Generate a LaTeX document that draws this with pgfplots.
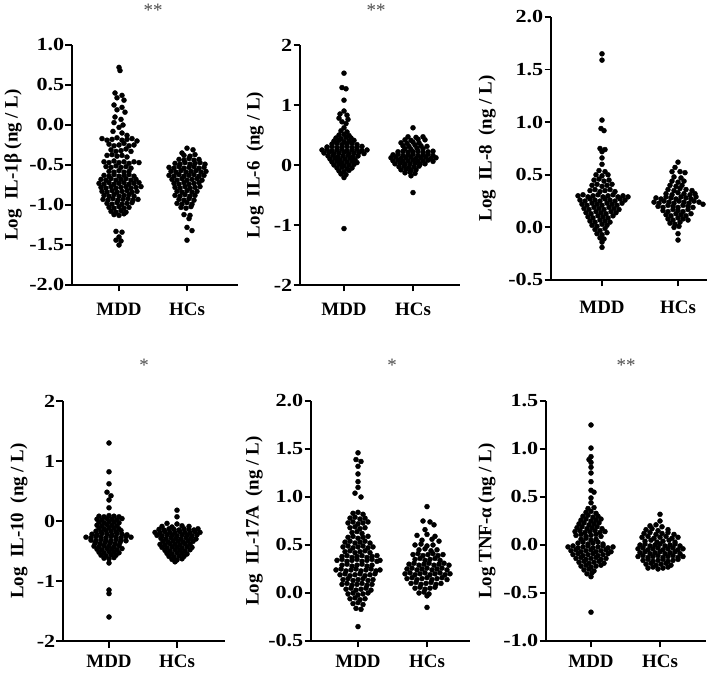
\documentclass[border=0pt]{standalone}
\usepackage{pgfplots}
\pgfplotsset{compat=1.18}
\usepackage{fontspec}
\setmainfont{Liberation Serif}
\newfontfamily\widefont{Liberation Serif}[FakeStretch=1.2]
\newcommand{\bigbf}{\bfseries\fontsize{19}{19}\selectfont}
\newcommand{\numbf}{\widefont\bfseries\fontsize{18.5}{18.5}\selectfont}
\pgfplotsset{
  swarm/.style={
    scale only axis, anchor=south west,
    axis x line=bottom, axis y line=left,
    axis line style={-, line width=1.8bp, black},
    every tick/.style={black, line width=1.8bp},
    major tick length=6.5bp, tick align=outside,
    xticklabel style={font=\bigbf, black},
    yticklabel style={font=\numbf, black, inner xsep=1bp},
    xticklabels={MDD,HCs},
    ylabel style={font=\bigbf, anchor=center},
    clip=false,
  },
  dots/.style={only marks, mark=*, mark size=2.5bp, black, mark options={draw=black, fill=black}},
}
\begin{document}
\begin{tikzpicture}
\path[use as bounding box] (0bp,0bp) rectangle (708bp,674bp);

% ---------- Panel 1: IL-1beta ----------
\begin{axis}[swarm, at={(72bp,389bp)}, width=166bp, height=240bp,
  xmin=-47, xmax=119, xtick={0,68}, xticklabel style={yshift=-8bp},
  ymin=-2, ymax=1, ytick={-2,-1.5,-1,-0.5,0,0.5,1},
  yticklabels={-2.0,-1.5,-1.0,-0.5,0.0,0.5,1.0},
  ylabel={Log\ \ IL-1β (ng / L)}, ylabel style={at={(axis description cs:-0.355,0.5)}}]
\addplot[dots] table[row sep=\\] {dx y\\
0 0.72\\ 1 0.68\\ -4 0.40\\ 3 0.37\\ -2 0.34\\ 5 0.31\\ -5 0.25\\ 3 0.22\\ -2 0.19\\ 6 0.16\\
-4 0.10\\ 2 0.07\\ -5 0.03\\ 4 0.00\\ 0 -0.03\\ -6 -0.08\\ 3 -0.10\\ 8 -0.13\\
-17 -0.17\\ -12 -0.19\\ -7 -0.18\\ -2 -0.16\\ 3 -0.19\\ 8 -0.18\\ 13 -0.17\\ 18 -0.20\\
-10 -0.24\\ -5 -0.26\\ 0 -0.25\\ 5 -0.23\\ 10 -0.26\\ 15 -0.25\\
-8 -0.31\\ -3 -0.33\\ 2 -0.32\\ 7 -0.30\\ 12 -0.33\\
-12 -0.38\\ -7 -0.37\\ -2 -0.39\\ 3 -0.38\\ 8 -0.40\\
-15 -0.46\\ -10 -0.47\\ -5 -0.45\\ 0 -0.47\\ 5 -0.46\\ 10 -0.48\\ 15 -0.46\\ 20 -0.47\\
-13 -0.52\\ -8 -0.53\\ -3 -0.51\\ 2 -0.53\\ 7 -0.52\\ 12 -0.54\\
-10 -0.58\\ -5 -0.59\\ 0 -0.57\\ 5 -0.59\\ 10 -0.58\\
-15 -0.63\\ -10 -0.64\\ -5 -0.62\\ 0 -0.64\\ 5 -0.63\\ 10 -0.62\\ 15 -0.64\\
-18 -0.68\\ -13 -0.69\\ -8 -0.67\\ -3 -0.69\\ 2 -0.68\\ 7 -0.67\\ 12 -0.69\\ 17 -0.68\\
-20 -0.73\\ -15 -0.74\\ -10 -0.72\\ -5 -0.74\\ 0 -0.73\\ 5 -0.72\\ 10 -0.74\\ 15 -0.73\\ 20 -0.72\\
-18 -0.78\\ -13 -0.79\\ -8 -0.77\\ -3 -0.79\\ 2 -0.78\\ 7 -0.77\\ 12 -0.79\\ 17 -0.78\\ 22 -0.77\\
-17 -0.83\\ -12 -0.84\\ -7 -0.82\\ -2 -0.84\\ 3 -0.83\\ 8 -0.82\\ 13 -0.84\\ 18 -0.83\\
-15 -0.88\\ -10 -0.89\\ -5 -0.87\\ 0 -0.89\\ 5 -0.88\\ 10 -0.87\\ 15 -0.89\\
-16 -0.93\\ -11 -0.94\\ -6 -0.92\\ -1 -0.94\\ 4 -0.93\\ 9 -0.92\\ 14 -0.94\\ 19 -0.93\\
-12 -0.98\\ -7 -0.99\\ -2 -0.97\\ 3 -0.99\\ 8 -0.98\\ 13 -0.97\\
-10 -1.03\\ -5 -1.04\\ 0 -1.02\\ 5 -1.04\\ 10 -1.03\\
-8 -1.08\\ -3 -1.09\\ 2 -1.07\\ 7 -1.09\\ -5 -1.12\\ 0 -1.13\\ 5 -1.11\\
-3 -1.33\\ 3 -1.34\\ 0 -1.40\\ -3 -1.44\\ 2 -1.45\\ 0 -1.50\\
};
\addplot[dots] table[row sep=\\, x expr=\thisrow{dx}+68] {dx y\\
0 -0.29\\ 6 -0.31\\ -5 -0.35\\ -3 -0.38\\ 3 -0.39\\ 8 -0.37\\
-8 -0.43\\ -3 -0.44\\ 2 -0.42\\ 7 -0.44\\ 12 -0.43\\
-12 -0.48\\ -7 -0.49\\ -2 -0.47\\ 3 -0.49\\ 8 -0.48\\ 13 -0.47\\ 18 -0.49\\
-18 -0.53\\ -13 -0.54\\ -8 -0.52\\ -3 -0.54\\ 2 -0.53\\ 7 -0.52\\ 12 -0.54\\ 17 -0.53\\
-16 -0.58\\ -11 -0.59\\ -6 -0.57\\ -1 -0.59\\ 4 -0.58\\ 9 -0.57\\ 14 -0.59\\ 19 -0.58\\
-18 -0.63\\ -13 -0.64\\ -8 -0.62\\ -3 -0.64\\ 2 -0.63\\ 7 -0.62\\ 12 -0.64\\ 17 -0.63\\
-15 -0.68\\ -10 -0.69\\ -5 -0.67\\ 0 -0.69\\ 5 -0.68\\ 10 -0.67\\ 15 -0.69\\
-13 -0.73\\ -8 -0.74\\ -3 -0.72\\ 2 -0.74\\ 7 -0.73\\ 12 -0.72\\
-12 -0.78\\ -7 -0.79\\ -2 -0.77\\ 3 -0.79\\ 8 -0.78\\ 13 -0.77\\
-10 -0.83\\ -5 -0.84\\ 0 -0.82\\ 5 -0.84\\ 10 -0.83\\
-12 -0.88\\ -7 -0.89\\ -2 -0.87\\ 3 -0.89\\ 8 -0.88\\
-8 -0.93\\ -3 -0.94\\ 2 -0.92\\ 7 -0.94\\ -10 -0.98\\ -5 -0.99\\ 0 -0.97\\ 5 -0.99\\
-6 -1.03\\ -1 -1.04\\ 4 -1.02\\ -3 -1.12\\ 3 -1.13\\ 2 -1.17\\ 0 -1.28\\ 5 -1.32\\ 0 -1.44\\
};
\end{axis}

% ---------- Panel 2: IL-6 ----------
\begin{axis}[swarm, at={(300bp,389bp)}, width=160bp, height=240bp,
  xmin=-44, xmax=116, xtick={0,69}, xticklabel style={yshift=-8bp},
  ymin=-2, ymax=2, ytick={-2,-1,0,1,2}, yticklabels={-2,-1,0,1,2},
  ylabel={Log\ \ IL-6\ \ (ng / L)}, ylabel style={at={(axis description cs:-0.281,0.5)}}]
\addplot[dots] table[row sep=\\] {dx y\\
0 1.53\\ -2 1.29\\ 2 1.27\\ 0 1.08\\ 0 0.90\\ -4 0.85\\ 3 0.83\\ -5 0.78\\ 4 0.76\\ -2 0.72\\ 2 0.69\\
0 0.62\\ -3 0.57\\ 3 0.55\\ -5 0.50\\ 0 0.51\\ 5 0.49\\
-8 0.45\\ -3 0.44\\ 2 0.46\\ 7 0.45\\ -10 0.40\\ -5 0.41\\ 0 0.39\\ 5 0.40\\ 10 0.41\\
-12 0.35\\ -7 0.36\\ -2 0.34\\ 3 0.35\\ 8 0.36\\ 13 0.34\\
-17 0.30\\ -12 0.31\\ -7 0.29\\ -2 0.30\\ 3 0.31\\ 8 0.29\\ 13 0.30\\ 18 0.31\\
-22 0.25\\ -17 0.26\\ -12 0.24\\ -7 0.25\\ -2 0.26\\ 3 0.24\\ 8 0.25\\ 13 0.26\\ 18 0.24\\ 23 0.25\\
-20 0.20\\ -15 0.21\\ -10 0.19\\ -5 0.20\\ 0 0.21\\ 5 0.19\\ 10 0.20\\ 15 0.21\\ 20 0.19\\
-16 0.15\\ -11 0.16\\ -6 0.14\\ -1 0.15\\ 4 0.16\\ 9 0.14\\ 14 0.15\\
-14 0.10\\ -9 0.11\\ -4 0.09\\ 1 0.10\\ 6 0.11\\ 11 0.09\\
-12 0.05\\ -7 0.06\\ -2 0.04\\ 3 0.05\\ 8 0.06\\ 13 0.04\\
-10 0.00\\ -5 0.01\\ 0 -0.01\\ 5 0.00\\ 10 0.01\\
-7 -0.05\\ -2 -0.04\\ 3 -0.06\\ 8 -0.05\\ -5 -0.10\\ 0 -0.11\\ 5 -0.09\\
-3 -0.15\\ 2 -0.16\\ 0 -0.21\\ 0 -1.06\\
};
\addplot[dots] table[row sep=\\, x expr=\thisrow{dx}+69] {dx y\\
0 0.62\\ -5 0.47\\ 3 0.46\\ 10 0.47\\ -8 0.42\\ -2 0.41\\ 5 0.43\\ 12 0.42\\
-12 0.37\\ -6 0.36\\ 0 0.38\\ 6 0.37\\ -10 0.32\\ -4 0.31\\ 2 0.33\\ 8 0.32\\ 14 0.31\\
-8 0.27\\ -2 0.26\\ 4 0.28\\ 10 0.27\\
-15 0.22\\ -10 0.23\\ -5 0.21\\ 0 0.22\\ 5 0.23\\ 10 0.21\\ 15 0.22\\ 20 0.23\\
-20 0.17\\ -15 0.18\\ -10 0.16\\ -5 0.17\\ 0 0.18\\ 5 0.16\\ 10 0.17\\ 15 0.18\\ 20 0.16\\
-22 0.12\\ -17 0.13\\ -12 0.11\\ -7 0.12\\ -2 0.13\\ 3 0.11\\ 8 0.12\\ 13 0.13\\ 18 0.11\\ 23 0.12\\
-20 0.07\\ -15 0.08\\ -10 0.06\\ -5 0.07\\ 0 0.08\\ 5 0.06\\ 10 0.07\\ 15 0.08\\ 20 0.06\\
-18 0.02\\ -13 0.03\\ -8 0.01\\ -3 0.02\\ 2 0.03\\ 7 0.01\\ 12 0.02\\
-14 -0.03\\ -9 -0.02\\ -4 -0.04\\ 1 -0.03\\ 6 -0.02\\
-12 -0.08\\ -7 -0.07\\ -2 -0.09\\ 3 -0.08\\ -8 -0.13\\ -3 -0.12\\ 2 -0.14\\ -2 -0.18\\ 0 -0.46\\
};
\end{axis}

% ---------- Panel 3: IL-8 ----------
\begin{axis}[swarm, at={(551bp,394bp)}, width=156bp, height=263bp,
  xmin=-51, xmax=105, xtick={0,76}, xticklabel style={yshift=-11bp},
  ymin=-0.5, ymax=2, ytick={-0.5,0,0.5,1,1.5,2}, yticklabels={-0.5,0.0,0.5,1.0,1.5,2.0},
  ylabel={Log\ \ IL-8\ \ (ng / L)}, ylabel style={at={(axis description cs:-0.41,0.5)}}]
\addplot[dots] table[row sep=\\] {dx y\\
0 1.65\\ 0 1.59\\ 0 1.02\\ -1 0.94\\ 2 0.92\\ -2 0.75\\ 3 0.74\\ 0 0.72\\ 0 0.66\\ 0 0.60\\
-3 0.54\\ 3 0.53\\ -6 0.50\\ 0 0.49\\ 6 0.50\\ -8 0.45\\ -3 0.46\\ 2 0.44\\ 7 0.45\\
-10 0.40\\ -5 0.41\\ 0 0.39\\ 5 0.40\\ 10 0.41\\ -12 0.35\\ -7 0.36\\ -2 0.34\\ 3 0.35\\ 8 0.36\\ 13 0.34\\
-24 0.30\\ -19 0.31\\ -14 0.29\\ -9 0.30\\ -4 0.31\\ 1 0.29\\ 6 0.30\\ 11 0.31\\ 16 0.29\\ 21 0.30\\ 26 0.29\\
-22 0.26\\ -17 0.25\\ -12 0.27\\ -7 0.26\\ -2 0.25\\ 3 0.27\\ 8 0.26\\ 13 0.25\\ 18 0.27\\ 23 0.26\\
-20 0.22\\ -15 0.21\\ -10 0.23\\ -5 0.22\\ 0 0.21\\ 5 0.23\\ 10 0.22\\ 15 0.21\\ 20 0.23\\
-18 0.18\\ -13 0.17\\ -8 0.19\\ -3 0.18\\ 2 0.17\\ 7 0.19\\ 12 0.18\\ 17 0.17\\
-16 0.14\\ -11 0.13\\ -6 0.15\\ -1 0.14\\ 4 0.13\\ 9 0.15\\ 14 0.14\\
-14 0.10\\ -9 0.09\\ -4 0.11\\ 1 0.10\\ 6 0.09\\ 11 0.11\\
-12 0.06\\ -7 0.05\\ -2 0.07\\ 3 0.06\\ 8 0.05\\ -10 0.02\\ -5 0.01\\ 0 0.03\\ 5 0.02\\
-7 -0.02\\ -2 -0.03\\ 3 -0.01\\ -5 -0.06\\ 0 -0.07\\ 5 -0.05\\ -2 -0.10\\ 2 -0.11\\ 0 -0.14\\ 0 -0.19\\
};
\addplot[dots] table[row sep=\\, x expr=\thisrow{dx}+76] {dx y\\
0 0.62\\ -3 0.57\\ -6 0.53\\ 2 0.53\\ 7 0.52\\ -4 0.48\\ 3 0.47\\ -6 0.44\\ 0 0.43\\ 6 0.44\\
-8 0.40\\ -2 0.39\\ 4 0.40\\ -10 0.36\\ -4 0.35\\ 2 0.37\\ 8 0.36\\ 14 0.35\\
-12 0.32\\ -6 0.31\\ 0 0.33\\ 6 0.32\\ 12 0.31\\ 17 0.32\\
-22 0.28\\ -17 0.27\\ -12 0.29\\ -7 0.28\\ -2 0.27\\ 3 0.29\\ 8 0.28\\ 13 0.27\\ 18 0.29\\
-24 0.24\\ -19 0.23\\ -14 0.25\\ -9 0.24\\ -4 0.23\\ 1 0.25\\ 6 0.24\\ 11 0.23\\ 16 0.25\\ 21 0.24\\ 25 0.22\\
-20 0.20\\ -15 0.19\\ -10 0.21\\ -5 0.20\\ 0 0.19\\ 5 0.21\\ 10 0.20\\ 15 0.19\\
-15 0.16\\ -10 0.15\\ -5 0.17\\ 0 0.16\\ 5 0.15\\ 10 0.17\\
-12 0.12\\ -7 0.11\\ -2 0.13\\ 3 0.12\\ 8 0.11\\ 13 0.13\\
-10 0.08\\ -5 0.07\\ 0 0.09\\ 5 0.08\\ 10 0.07\\ -8 0.04\\ -3 0.03\\ 2 0.05\\
-4 0.00\\ 1 0.01\\ 0 -0.06\\ 0 -0.12\\
};
\end{axis}

% ---------- Panel 4: IL-10 ----------
\begin{axis}[swarm, at={(63bp,33bp)}, width=162bp, height=240bp,
  xmin=-46, xmax=116, xtick={0,68}, xticklabel style={yshift=-4bp},
  ymin=-2, ymax=2, ytick={-2,-1,0,1,2}, yticklabels={-2,-1,0,1,2},
  ylabel={Log\ \ IL-10\ \ (ng / L)}, ylabel style={at={(axis description cs:-0.272,0.5)}}]
\addplot[dots] table[row sep=\\] {dx y\\
0 1.30\\ 0 0.82\\ 0 0.62\\ -2 0.48\\ 2 0.42\\ 0 0.35\\ 0 0.22\\
-10 0.08\\ -5 0.07\\ 0 0.09\\ 5 0.08\\ 10 0.07\\
-12 0.03\\ -7 0.02\\ -2 0.04\\ 3 0.03\\ 8 0.02\\ 13 0.04\\
-10 -0.02\\ -5 -0.03\\ 0 -0.01\\ 5 -0.02\\ 10 -0.03\\
-12 -0.07\\ -7 -0.08\\ -2 -0.06\\ 3 -0.07\\ 8 -0.08\\
-10 -0.12\\ -5 -0.13\\ 0 -0.11\\ 5 -0.12\\ 10 -0.13\\
-13 -0.17\\ -8 -0.18\\ -3 -0.16\\ 2 -0.17\\ 7 -0.18\\ 12 -0.16\\
-17 -0.22\\ -12 -0.23\\ -7 -0.21\\ -2 -0.22\\ 3 -0.23\\ 8 -0.21\\ 13 -0.22\\ 18 -0.23\\
-23 -0.27\\ -18 -0.28\\ -13 -0.26\\ -8 -0.27\\ -3 -0.28\\ 2 -0.26\\ 7 -0.27\\ 12 -0.28\\ 17 -0.26\\ 22 -0.27\\
-18 -0.32\\ -13 -0.33\\ -8 -0.31\\ -3 -0.32\\ 2 -0.33\\ 7 -0.31\\ 12 -0.32\\ 17 -0.33\\
-14 -0.37\\ -9 -0.38\\ -4 -0.36\\ 1 -0.37\\ 6 -0.38\\ 11 -0.36\\
-15 -0.42\\ -10 -0.43\\ -5 -0.41\\ 0 -0.42\\ 5 -0.43\\ 10 -0.41\\
-12 -0.47\\ -7 -0.48\\ -2 -0.46\\ 3 -0.47\\ 8 -0.48\\ 13 -0.46\\
-10 -0.52\\ -5 -0.53\\ 0 -0.51\\ 5 -0.52\\ 10 -0.53\\
-8 -0.57\\ -3 -0.58\\ 2 -0.56\\ 7 -0.57\\ -5 -0.62\\ 0 -0.63\\ 5 -0.61\\
0 -0.70\\ 0 -1.15\\ 0 -1.21\\ 0 -1.60\\
};
\addplot[dots] table[row sep=\\, x expr=\thisrow{dx}+68] {dx y\\
0 0.18\\ 0 0.07\\ -10 -0.04\\ 0 -0.05\\ -15 -0.09\\ -5 -0.10\\ 5 -0.08\\ 12 -0.09\\
-18 -0.14\\ -13 -0.15\\ -8 -0.13\\ -3 -0.14\\ 2 -0.15\\ 7 -0.13\\ 12 -0.14\\ 17 -0.15\\ 21 -0.13\\
-22 -0.19\\ -17 -0.20\\ -12 -0.18\\ -7 -0.19\\ -2 -0.20\\ 3 -0.18\\ 8 -0.19\\ 13 -0.20\\ 18 -0.18\\ 23 -0.19\\
-20 -0.24\\ -15 -0.25\\ -10 -0.23\\ -5 -0.24\\ 0 -0.25\\ 5 -0.23\\ 10 -0.24\\ 15 -0.25\\ 20 -0.23\\
-16 -0.29\\ -11 -0.30\\ -6 -0.28\\ -1 -0.29\\ 4 -0.30\\ 9 -0.28\\ 14 -0.29\\ 19 -0.30\\
-14 -0.34\\ -9 -0.35\\ -4 -0.33\\ 1 -0.34\\ 6 -0.35\\ 11 -0.33\\ 16 -0.34\\
-17 -0.39\\ -12 -0.40\\ -7 -0.38\\ -2 -0.39\\ 3 -0.40\\ 8 -0.38\\ 13 -0.39\\
-15 -0.44\\ -10 -0.45\\ -5 -0.43\\ 0 -0.44\\ 5 -0.45\\ 10 -0.43\\ 15 -0.44\\
-12 -0.49\\ -7 -0.50\\ -2 -0.48\\ 3 -0.49\\ 8 -0.50\\ 13 -0.48\\
-10 -0.54\\ -5 -0.55\\ 0 -0.53\\ 5 -0.54\\ 10 -0.55\\
-8 -0.59\\ -3 -0.60\\ 2 -0.58\\ 7 -0.59\\ -5 -0.64\\ 0 -0.65\\ 5 -0.63\\ -2 -0.68\\
};
\end{axis}

% ---------- Panel 5: IL-17A ----------
\begin{axis}[swarm, at={(311bp,33bp)}, width=159bp, height=240bp,
  xmin=-47, xmax=112, xtick={0,69}, xticklabel style={yshift=-4bp},
  ymin=-0.5, ymax=2, ytick={-0.5,0,0.5,1,1.5,2}, yticklabels={-0.5,0.0,0.5,1.0,1.5,2.0},
  ylabel={Log\ \ IL-17A\ \ (ng / L)}, ylabel style={at={(axis description cs:-0.358,0.5)}}]
\addplot[dots] table[row sep=\\] {dx y\\
0 1.46\\ -2 1.39\\ 3 1.37\\ 0 1.32\\ 0 1.24\\ 0 1.16\\ 0 1.10\\ -3 1.04\\ 3 1.00\\
-5 0.83\\ 0 0.84\\ 5 0.82\\ -8 0.78\\ -3 0.79\\ 2 0.77\\ 7 0.78\\
-10 0.73\\ -5 0.74\\ 0 0.72\\ 5 0.73\\ 10 0.74\\ -8 0.68\\ -3 0.69\\ 2 0.67\\ 7 0.68\\
-6 0.63\\ -1 0.64\\ 4 0.62\\ -10 0.58\\ -5 0.59\\ 0 0.57\\ 5 0.58\\ 10 0.59\\
-13 0.53\\ -8 0.54\\ -3 0.52\\ 2 0.53\\ 7 0.54\\ 12 0.52\\
-15 0.48\\ -10 0.49\\ -5 0.47\\ 0 0.48\\ 5 0.49\\ 10 0.47\\ 15 0.48\\
-13 0.43\\ -8 0.44\\ -3 0.42\\ 2 0.43\\ 7 0.44\\ 12 0.42\\
-16 0.38\\ -11 0.39\\ -6 0.37\\ -1 0.38\\ 4 0.39\\ 9 0.37\\ 14 0.38\\ 19 0.39\\
-21 0.34\\ -16 0.35\\ -11 0.33\\ -6 0.34\\ -1 0.35\\ 4 0.33\\ 9 0.34\\ 14 0.35\\ 19 0.33\\ 22 0.34\\
-16 0.29\\ -11 0.30\\ -6 0.28\\ -1 0.29\\ 4 0.30\\ 9 0.28\\ 14 0.29\\
-22 0.24\\ -17 0.25\\ -12 0.23\\ -7 0.24\\ -2 0.25\\ 3 0.23\\ 8 0.24\\ 13 0.25\\ 18 0.23\\ 22 0.24\\
-18 0.19\\ -13 0.20\\ -8 0.18\\ -3 0.19\\ 2 0.20\\ 7 0.18\\ 12 0.19\\ 17 0.20\\
-15 0.14\\ -10 0.15\\ -5 0.13\\ 0 0.14\\ 5 0.15\\ 10 0.13\\ 15 0.14\\
-16 0.09\\ -11 0.10\\ -6 0.08\\ -1 0.09\\ 4 0.10\\ 9 0.08\\ 14 0.09\\
-12 0.04\\ -7 0.05\\ -2 0.03\\ 3 0.04\\ 8 0.05\\ 13 0.03\\
-10 -0.01\\ -5 0.00\\ 0 -0.02\\ 5 -0.01\\ 10 0.00\\ -8 -0.06\\ -3 -0.05\\ 2 -0.07\\ 7 -0.06\\
-5 -0.11\\ 0 -0.10\\ 5 -0.12\\ -2 -0.16\\ 3 -0.17\\ 0 -0.35\\
};
\addplot[dots] table[row sep=\\, x expr=\thisrow{dx}+69] {dx y\\
0 0.90\\ -4 0.75\\ 3 0.74\\ 7 0.71\\ -2 0.66\\ -10 0.60\\ 0 0.61\\ 8 0.59\\ -5 0.55\\ 5 0.56\\ 12 0.54\\
-12 0.50\\ -6 0.51\\ 0 0.49\\ 6 0.50\\ -8 0.45\\ -2 0.46\\ 4 0.44\\ 10 0.45\\
-14 0.40\\ -9 0.41\\ -4 0.39\\ 1 0.40\\ 6 0.41\\ 11 0.39\\ 16 0.40\\
-12 0.35\\ -7 0.36\\ -2 0.34\\ 3 0.35\\ 8 0.36\\ 13 0.34\\
-18 0.30\\ -13 0.31\\ -8 0.29\\ -3 0.30\\ 2 0.31\\ 7 0.29\\ 12 0.30\\ 17 0.31\\ 22 0.29\\
-20 0.25\\ -15 0.26\\ -10 0.24\\ -5 0.25\\ 0 0.26\\ 5 0.24\\ 10 0.25\\ 15 0.26\\ 20 0.24\\
-22 0.20\\ -17 0.21\\ -12 0.19\\ -7 0.20\\ -2 0.21\\ 3 0.19\\ 8 0.20\\ 13 0.21\\ 18 0.19\\ 23 0.20\\
-20 0.15\\ -15 0.16\\ -10 0.14\\ -5 0.15\\ 0 0.16\\ 5 0.14\\ 10 0.15\\ 15 0.16\\ 20 0.14\\
-16 0.10\\ -11 0.11\\ -6 0.09\\ -1 0.10\\ 4 0.11\\ 9 0.09\\ 14 0.10\\
-12 0.05\\ -7 0.06\\ -2 0.04\\ 3 0.05\\ 8 0.06\\ -8 0.00\\ -3 0.01\\ 2 -0.01\\ 0 -0.03\\ 0 -0.15\\
};
\end{axis}

% ---------- Panel 6: TNF-alpha ----------
\begin{axis}[swarm, at={(546bp,33bp)}, width=160bp, height=240bp,
  xmin=-45, xmax=115, xtick={0,69}, xticklabel style={yshift=-4bp},
  ymin=-1, ymax=1.5, ytick={-1,-0.5,0,0.5,1,1.5}, yticklabels={-1.0,-0.5,0.0,0.5,1.0,1.5},
  ylabel={Log TNF-α (ng / L)}, ylabel style={at={(axis description cs:-0.369,0.5)}}]
\addplot[dots] table[row sep=\\] {dx y\\
0 1.25\\ 0 1.01\\ 0 0.92\\ -2 0.89\\ 0 0.86\\ 0 0.81\\ 0 0.75\\ 0 0.66\\ 0 0.57\\ 3 0.55\\ 0 0.49\\ 0 0.44\\
-3 0.38\\ 3 0.39\\ -5 0.34\\ 0 0.35\\ 5 0.33\\ -8 0.30\\ -3 0.31\\ 2 0.29\\ 7 0.30\\
-10 0.26\\ -5 0.27\\ 0 0.25\\ 5 0.26\\ 10 0.27\\ -12 0.22\\ -7 0.23\\ -2 0.21\\ 3 0.22\\ 8 0.23\\
-14 0.18\\ -9 0.19\\ -4 0.17\\ 1 0.18\\ 6 0.19\\ 11 0.17\\
-16 0.14\\ -11 0.15\\ -6 0.13\\ -1 0.14\\ 4 0.15\\ 9 0.13\\ 14 0.14\\
-15 0.10\\ -10 0.11\\ -5 0.09\\ 0 0.10\\ 5 0.11\\ 10 0.09\\ -10 0.06\\ -5 0.07\\ 0 0.05\\ 5 0.06\\
-13 0.02\\ -8 0.03\\ -3 0.01\\ 2 0.02\\ 7 0.03\\ 12 0.01\\
-23 -0.02\\ -18 -0.01\\ -13 -0.03\\ -8 -0.02\\ -3 -0.01\\ 2 -0.03\\ 7 -0.02\\ 12 -0.01\\ 17 -0.03\\ 22 -0.02\\
-20 -0.06\\ -15 -0.05\\ -10 -0.07\\ -5 -0.06\\ 0 -0.05\\ 5 -0.07\\ 10 -0.06\\ 15 -0.05\\ 20 -0.07\\
-18 -0.10\\ -13 -0.09\\ -8 -0.11\\ -3 -0.10\\ 2 -0.09\\ 7 -0.11\\ 12 -0.10\\ 17 -0.09\\
-15 -0.14\\ -10 -0.13\\ -5 -0.15\\ 0 -0.14\\ 5 -0.13\\ 10 -0.15\\ 15 -0.14\\
-12 -0.18\\ -7 -0.17\\ -2 -0.19\\ 3 -0.18\\ 8 -0.17\\ 13 -0.19\\
-10 -0.22\\ -5 -0.21\\ 0 -0.23\\ 5 -0.22\\ 10 -0.21\\ -7 -0.26\\ -2 -0.25\\ 3 -0.27\\
-4 -0.30\\ 1 -0.29\\ 0 -0.33\\ 0 -0.70\\
};
\addplot[dots] table[row sep=\\, x expr=\thisrow{dx}+69] {dx y\\
0 0.32\\ 0 0.25\\ -10 0.20\\ -4 0.21\\ 2 0.19\\ -14 0.16\\ -8 0.17\\ -2 0.15\\ 8 0.16\\
-16 0.12\\ -10 0.13\\ -4 0.11\\ 2 0.12\\ 8 0.13\\ 14 0.11\\
-18 0.08\\ -12 0.09\\ -6 0.07\\ 0 0.08\\ 6 0.09\\ 12 0.07\\ 18 0.08\\
-15 0.04\\ -9 0.05\\ -3 0.03\\ 3 0.04\\ 9 0.05\\ 15 0.03\\
-20 0.00\\ -15 0.01\\ -10 -0.01\\ -5 0.00\\ 0 0.01\\ 5 -0.01\\ 10 0.00\\ 15 0.01\\ 20 -0.01\\
-22 -0.04\\ -17 -0.03\\ -12 -0.05\\ -7 -0.04\\ -2 -0.03\\ 3 -0.05\\ 8 -0.04\\ 13 -0.03\\ 18 -0.05\\ 23 -0.04\\
-20 -0.08\\ -15 -0.07\\ -10 -0.09\\ -5 -0.08\\ 0 -0.07\\ 5 -0.09\\ 10 -0.08\\ 15 -0.07\\ 20 -0.09\\
-22 -0.12\\ -17 -0.11\\ -12 -0.13\\ -7 -0.12\\ -2 -0.11\\ 3 -0.13\\ 8 -0.12\\ 13 -0.11\\ 18 -0.13\\ 23 -0.12\\
-17 -0.16\\ -12 -0.15\\ -7 -0.17\\ -2 -0.16\\ 3 -0.15\\ 8 -0.17\\ 13 -0.16\\ 18 -0.15\\
-14 -0.20\\ -9 -0.19\\ -4 -0.21\\ 1 -0.20\\ 6 -0.19\\ 11 -0.21\\
-12 -0.24\\ -7 -0.23\\ -2 -0.25\\ 3 -0.24\\ 8 -0.23\\
};
\end{axis}

% significance stars
\begin{scope}[every node/.style={font=\fontsize{19}{19}\selectfont, text=black!70, inner sep=0pt}]
\node at (153bp,664bp) {**};
\node at (376bp,664bp) {**};
\node at (144bp,309bp) {*};
\node at (392bp,309bp) {*};
\node at (626bp,309bp) {**};
\end{scope}
\end{tikzpicture}
\end{document}
